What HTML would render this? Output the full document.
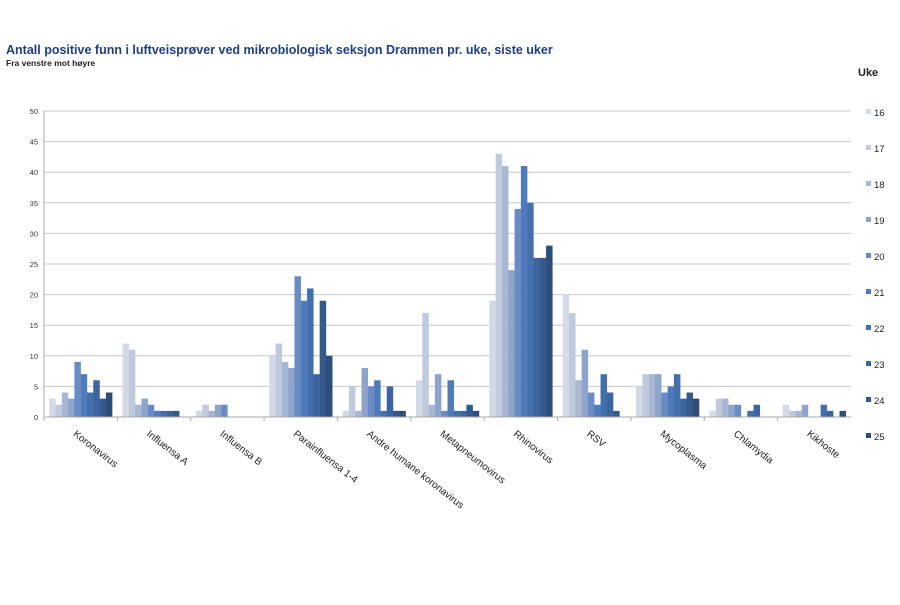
<!DOCTYPE html>
<html><head><meta charset="utf-8"><style>
body{margin:0;background:#fff;font-family:"Liberation Sans",sans-serif}
</style></head><body>
<svg id="chart" width="900" height="600" xmlns="http://www.w3.org/2000/svg" font-family="Liberation Sans, sans-serif">
<text x="6" y="54" font-size="12.5" font-weight="bold" fill="#1f3f7f">Antall positive funn i luftveisprøver ved mikrobiologisk seksjon Drammen pr. uke, siste uker</text>
<text x="6" y="66" font-size="8.5" font-weight="bold" fill="#222">Fra venstre mot høyre</text>
<text x="858" y="76" font-size="11" font-weight="bold" fill="#222">Uke</text>
<g id="grid"></g><g id="bars"></g><g id="axes"></g><g id="legend"></g>
</svg>
<script>
const categories=["Koronavirus","Influensa A","Influensa B","Parainfluensa 1-4","Andre humane koronavirus","Metapneumovirus","Rhinovirus","RSV","Mycoplasma","Chlamydia","Kikhoste"];
const weeks=["16","17","18","19","20","21","22","23","24","25"];
const w16=[3,12,1,10,1,6,19,20,5,1,2];
const w17=[2,11,2,12,5,17,43,17,7,3,1];
const w18=[4,2,1,9,1,2,41,6,7,3,1];
const w19=[3,3,2,8,8,7,24,11,7,2,2];
const w20=[9,2,2,23,5,1,34,4,4,2,0];
const w21=[7,1,0,19,6,6,41,2,5,0,0];
const w22=[4,1,0,21,1,1,35,7,7,1,2];
const w23=[6,1,0,7,5,1,26,4,3,2,1];
const w24=[3,1,0,19,1,2,26,1,4,0,0];
const w25=[4,0,0,10,1,1,28,0,3,0,1];
const series=[w16,w17,w18,w19,w20,w21,w22,w23,w24,w25];
const yTicks=[0,5,10,15,20,25,30,35,40,45,50];
const colors=["#d3d9e6","#c0cadd","#a9b7d3","#8fa4cb","#6a8cc4","#4f7bbb","#4370ad","#3c649e","#35598b","#2d4c78"];
const X0=44,X1=851,Y0=417,Y1=111,YMAX=50;
const NS="http://www.w3.org/2000/svg";
const y=v=>Y0-(v/YMAX)*(Y0-Y1);
const cw=(X1-X0)/categories.length;
const bw=6.3;
const xc=i=>X0+cw*i;
function mk(t,a,p){const e=document.createElementNS(NS,t);for(const k in a)e.setAttribute(k,a[k]);p.appendChild(e);return e;}
const G=document.getElementById('grid'),B=document.getElementById('bars'),A=document.getElementById('axes'),L=document.getElementById('legend');
yTicks.forEach(t=>{
 const l=mk('line',{x1:X0,x2:X1,y1:y(t),y2:y(t),stroke:'#c8c8c8','stroke-width':1},G);
 
 
 const tx=mk('text',{x:X0-6,y:y(t)+3,'font-size':7.5,'text-anchor':'end',fill:'#333'},A);
 tx.textContent=t;
 
 
});
const ax=mk('line',{x1:X0,x2:X0,y1:Y1,y2:Y0,stroke:'#aaa'},A);


const bx=mk('line',{x1:X0,x2:X1,y1:Y0,y2:Y0,stroke:'#aaa'},A);


categories.forEach((c,i)=>{
 const tk=mk('line',{x1:xc(i),x2:xc(i),y1:Y0,y2:Y0+4,stroke:'#aaa'},A);
 
 
 const gx=xc(i)+(cw-bw*series.length)/2;
 series.forEach((s,j)=>{
  const v=s[i];if(!v)return;
  const r=mk('rect',{x:gx+j*bw,y:y(v),width:bw+0.2,height:Y0-y(v),fill:colors[j]},B);
  
  
 });
 const cx=xc(i)+cw/2;
 const lt=mk('text',{x:cx-8,y:Y0+18,'font-size':10,fill:'#222',transform:`rotate(38 ${cx-8} ${Y0+18})`},A);
 lt.textContent=c;
 
 
});
weeks.forEach((wk,j)=>{
 const ly=113+j*36;
 const g=mk('g',{},L);
 
 
 mk('rect',{x:866,y:ly-4,width:5,height:5,fill:colors[j]},g);
 const t=mk('text',{x:874,y:ly+3,'font-size':9.5,fill:'#222'},g);
 t.textContent=wk;
});
</script>
</body></html>
